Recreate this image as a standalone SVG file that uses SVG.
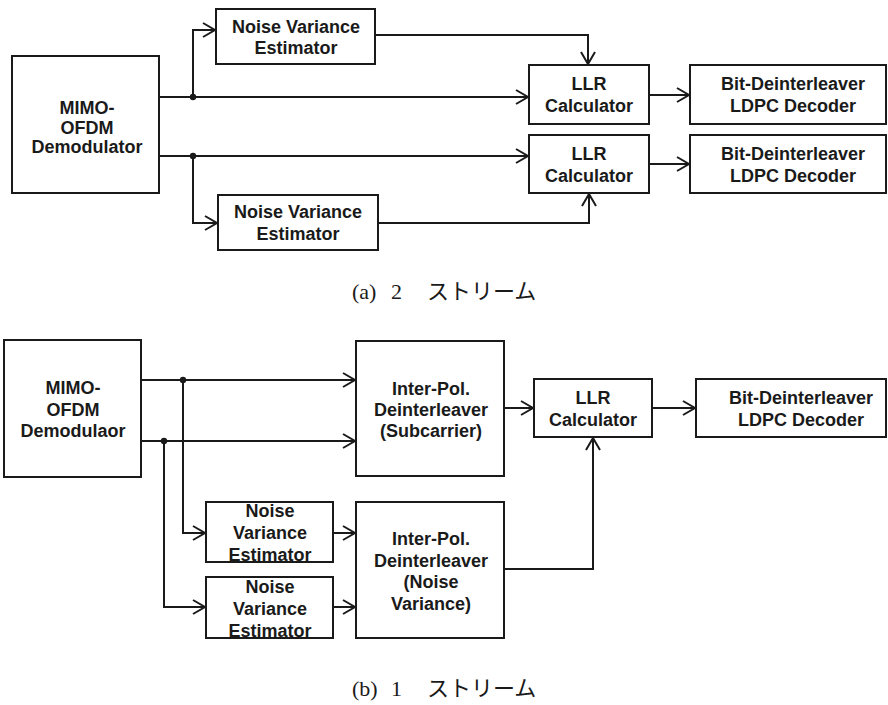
<svg xmlns="http://www.w3.org/2000/svg" width="888" height="705" viewBox="0 0 888 705">
<defs>
<style>
.box{fill:#fff;stroke:#1a1a1a;stroke-width:2}
.t{font-family:"Liberation Sans",Arial,sans-serif;font-weight:bold;font-size:18px;fill:#1a1a1a;text-anchor:middle}
.w{fill:none;stroke:#1a1a1a;stroke-width:2}
.cap{font-family:"Liberation Serif","Noto Sans CJK JP",serif;font-size:22px;fill:#1a1a1a}
.dot{fill:#1a1a1a}
</style>
<marker id="ah" markerUnits="userSpaceOnUse" markerWidth="16" markerHeight="16" refX="13" refY="8" orient="auto">
<path d="M1,1 L13,8 L1,15" fill="none" stroke="#1a1a1a" stroke-width="2"/>
</marker>
</defs>
<rect width="888" height="705" fill="#fff"/>

<g id="connectors">
<path class="w" d="M159,97 H528" marker-end="url(#ah)"/>
<path class="w" d="M193,97 V30 H215" marker-end="url(#ah)"/>
<path class="w" d="M375,35 H588 V64" marker-end="url(#ah)"/>
<path class="w" d="M159,156 H528" marker-end="url(#ah)"/>
<path class="w" d="M193,156 V223 H217" marker-end="url(#ah)"/>
<path class="w" d="M378,223 H589 V194" marker-end="url(#ah)"/>
<path class="w" d="M649,95 H689" marker-end="url(#ah)"/>
<path class="w" d="M649,164 H689" marker-end="url(#ah)"/>
<circle class="dot" cx="193" cy="97" r="3.2"/>
<circle class="dot" cx="193" cy="156" r="3.2"/>

<path class="w" d="M141,380 H355" marker-end="url(#ah)"/>
<path class="w" d="M141,441 H355" marker-end="url(#ah)"/>
<path class="w" d="M183,380 V533 H205" marker-end="url(#ah)"/>
<path class="w" d="M164,441 V607 H205" marker-end="url(#ah)"/>
<path class="w" d="M333,533 H355" marker-end="url(#ah)"/>
<path class="w" d="M333,607 H355" marker-end="url(#ah)"/>
<path class="w" d="M504,408 H533" marker-end="url(#ah)"/>
<path class="w" d="M504,569 H593 V438" marker-end="url(#ah)"/>
<path class="w" d="M652,408 H695" marker-end="url(#ah)"/>
<circle class="dot" cx="183" cy="380" r="3.2"/>
<circle class="dot" cx="164" cy="441" r="3.2"/>
</g>

<g id="a-mimo"><rect class="box" x="12" y="56" width="147" height="137"/>
<text class="t" x="87" y="114">MIMO-</text><text class="t" x="87" y="133.5">OFDM</text><text class="t" x="87" y="153">Demodulator</text></g>
<g id="a-nve1"><rect class="box" x="216" y="9" width="159" height="55"/>
<text class="t" x="296" y="33">Noise Variance</text><text class="t" x="296" y="54">Estimator</text></g>
<g id="a-nve2"><rect class="box" x="218" y="195" width="160" height="55"/>
<text class="t" x="298" y="218">Noise Variance</text><text class="t" x="298" y="240">Estimator</text></g>
<g id="a-llr1"><rect class="box" x="529" y="65" width="120" height="59"/>
<text class="t" x="589" y="90">LLR</text><text class="t" x="589" y="112">Calculator</text></g>
<g id="a-bit1"><rect class="box" x="690" y="65" width="196" height="59"/>
<text class="t" x="793" y="90">Bit-Deinterleaver</text><text class="t" x="793" y="112">LDPC Decoder</text></g>
<g id="a-llr2"><rect class="box" x="529" y="135" width="120" height="58"/>
<text class="t" x="589" y="160">LLR</text><text class="t" x="589" y="182">Calculator</text></g>
<g id="a-bit2"><rect class="box" x="690" y="135" width="196" height="58"/>
<text class="t" x="793" y="160">Bit-Deinterleaver</text><text class="t" x="793" y="182">LDPC Decoder</text></g>

<g id="cap-a"><text class="cap" y="299"><tspan x="352">(a)</tspan><tspan x="391">2</tspan><tspan x="427">ストリーム</tspan></text></g>

<g id="b-mimo"><rect class="box" x="4" y="340" width="137" height="137"/>
<text class="t" x="73" y="394">MIMO-</text><text class="t" x="73" y="416">OFDM</text><text class="t" x="73" y="437">Demodulaor</text></g>
<g id="b-nve1"><rect class="box" x="206" y="502" width="127" height="60"/>
<text class="t" x="270" y="517">Noise</text><text class="t" x="270" y="539">Variance</text><text class="t" x="270" y="561">Estimator</text></g>
<g id="b-nve2"><rect class="box" x="206" y="577" width="127" height="61"/>
<text class="t" x="270" y="593">Noise</text><text class="t" x="270" y="615">Variance</text><text class="t" x="270" y="637">Estimator</text></g>
<g id="b-ipd1"><rect class="box" x="356" y="341" width="148" height="135"/>
<text class="t" x="431" y="395">Inter-Pol.</text><text class="t" x="431" y="416">Deinterleaver</text><text class="t" x="431" y="437">(Subcarrier)</text></g>
<g id="b-ipd2"><rect class="box" x="356" y="502" width="148" height="136"/>
<text class="t" x="431" y="545">Inter-Pol.</text><text class="t" x="431" y="567">Deinterleaver</text><text class="t" x="431" y="588">(Noise</text><text class="t" x="431" y="610">Variance)</text></g>
<g id="b-llr"><rect class="box" x="534" y="379" width="118" height="58"/>
<text class="t" x="593" y="404">LLR</text><text class="t" x="593" y="426">Calculator</text></g>
<g id="b-bit"><rect class="box" x="696" y="379" width="190" height="58"/>
<text class="t" x="801" y="404">Bit-Deinterleaver</text><text class="t" x="801" y="426">LDPC Decoder</text></g>

<g id="cap-b"><text class="cap" y="696"><tspan x="352">(b)</tspan><tspan x="391">1</tspan><tspan x="427">ストリーム</tspan></text></g>
</svg>
